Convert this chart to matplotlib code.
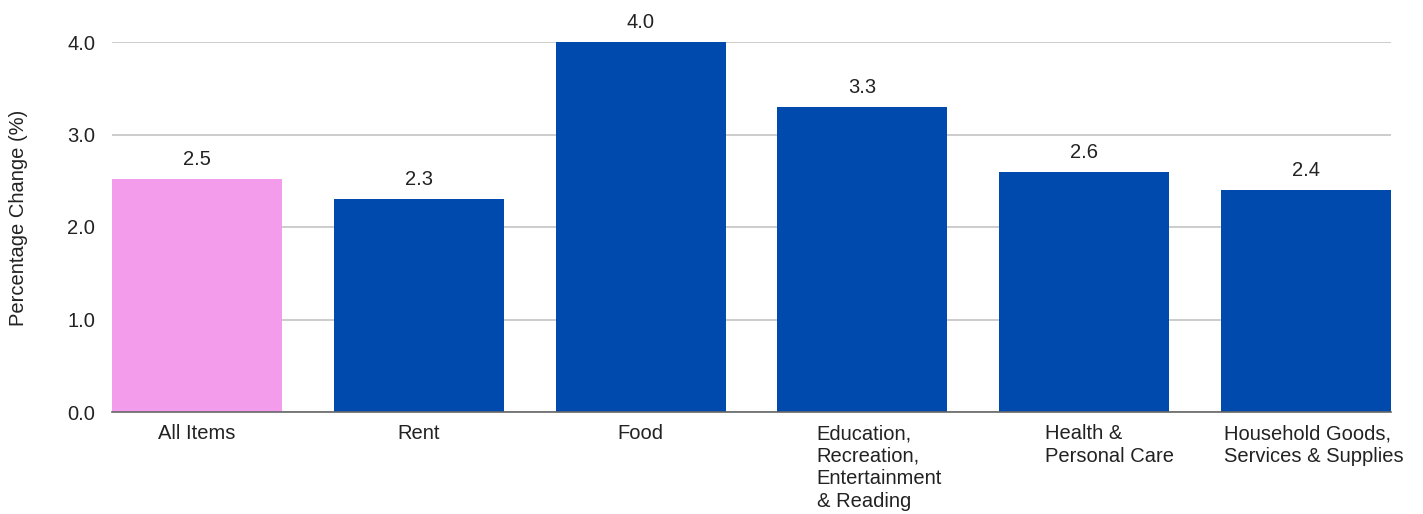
import matplotlib
matplotlib.use("Agg")
from matplotlib import pyplot as plt

plt.rcParams["font.family"] = ["Liberation Sans", "DejaVu Sans"]

# Data
categories = [
    "All Items",
    "Rent",
    "Food",
    "Education,\nRecreation,\nEntertainment\n& Reading",
    "Health &\nPersonal Care",
    "Household Goods,\nServices & Supplies",
]
values = [2.52, 2.3, 4.0, 3.3, 2.6, 2.4]
value_labels = ["2.5", "2.3", "4.0", "3.3", "2.6", "2.4"]
bar_colors = ["#F49CEC", "#004AAD", "#004AAD", "#004AAD", "#004AAD", "#004AAD"]

yticks = [0.0, 1.0, 2.0, 3.0, 4.0]

FS = 14.5
TXT = "#222222"

fig = plt.figure(figsize=(14.23, 5.14), dpi=100)
ax = fig.add_axes([112 / 1423, 1 - 412 / 514, (1391 - 112) / 1423, 370 / 514])

width = 0.766
x = list(range(len(categories)))
ax.bar(x, values, width=width, color=bar_colors, zorder=2)

for xi, v, lab in zip(x, values, value_labels):
    ax.annotate(lab, (xi, v), xytext=(0, 10), textcoords="offset pixels",
                ha="center", va="bottom", fontsize=FS, color=TXT,
                annotation_clip=False)

# category labels drawn by hand: the wrapped ones sit a bit right of centre
shifts = [0, 0, 0, 17, 25, 8]
xform = ax.get_xaxis_transform()
for xi, cat, dx in zip(x, categories, shifts):
    ax.annotate(cat, (xi, 0), xycoords=xform, xytext=(dx, -12),
                textcoords="offset pixels", ha="center", va="top",
                multialignment="left", linespacing=1.25,
                fontsize=FS, color=TXT, annotation_clip=False)

ax.set_xlim(-width / 2, len(categories) - 1 + width / 2)
ax.set_ylim(0, 4.0)
ax.set_yticks(yticks)
ax.set_yticklabels([f"{t:.1f}" for t in yticks])
ax.set_xticks(x)
ax.set_xticklabels([])

ax.tick_params(axis="both", length=0, labelsize=FS, colors=TXT)
ax.tick_params(axis="y", pad=12)

ax.grid(axis="y", color="#C4C4C4", linewidth=1.2, zorder=0)
ax.grid(axis="x", visible=False)
ax.set_axisbelow(True)
for side in ["top", "right", "left"]:
    ax.spines[side].set_visible(False)
ax.spines["bottom"].set_color("#666666")
ax.spines["bottom"].set_linewidth(1.2)
ax.spines["bottom"].set_zorder(3)

ax.set_ylabel("Percentage Change (%)", fontsize=FS, color=TXT)
ax.yaxis.set_label_coords(-0.0657, 0.526)

fig.savefig("out.png", dpi=100)
